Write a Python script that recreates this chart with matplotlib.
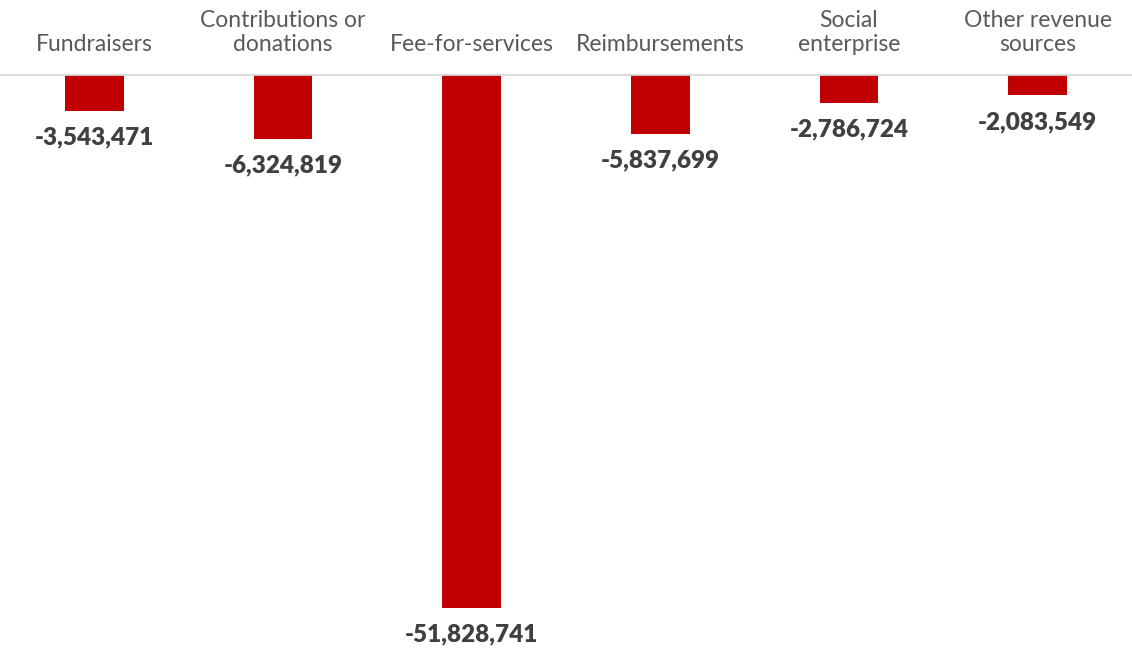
import matplotlib
matplotlib.use('Agg')
import matplotlib.pyplot as plt

categories = ['Fundraisers', 'Contributions or\ndonations', 'Fee-for-services',
              'Reimbursements', 'Social\nenterprise', 'Other revenue\nsources']
values = [-3543471, -6324819, -51828741, -5837699, -2786724, -2083549]

bar_color = '#C00000'
label_color = '#404040'
cat_color = '#595959'

fig = plt.figure(figsize=(11.32, 6.52), dpi=100)
ax = fig.add_axes([0, 0, 1, 578 / 652])

x = range(len(categories))
ax.bar(x, values, width=0.31, color=bar_color, zorder=2)
ax.axhline(0, color='#d9d9d9', lw=2, zorder=3)

for i, (cat, v) in enumerate(zip(categories, values)):
    ax.annotate(f'{v:,}', (i, v), xytext=(0, -19), textcoords='offset points',
                ha='center', va='center', fontsize=17.5, fontweight='heavy',
                family='Lato', color=label_color, annotation_clip=False)
    ax.annotate(cat, (i, 0), xytext=(0, 16.5), textcoords='offset points',
                ha='center', va='baseline', fontsize=16.5, fontweight='normal',
                family='Lato', color=cat_color, linespacing=1.2,
                annotation_clip=False)

ax.set_xlim(-0.5, len(categories) - 0.5)
ax.set_ylim(-56.1e6, 0)
ax.axis('off')

fig.savefig('out.png', dpi=100)
